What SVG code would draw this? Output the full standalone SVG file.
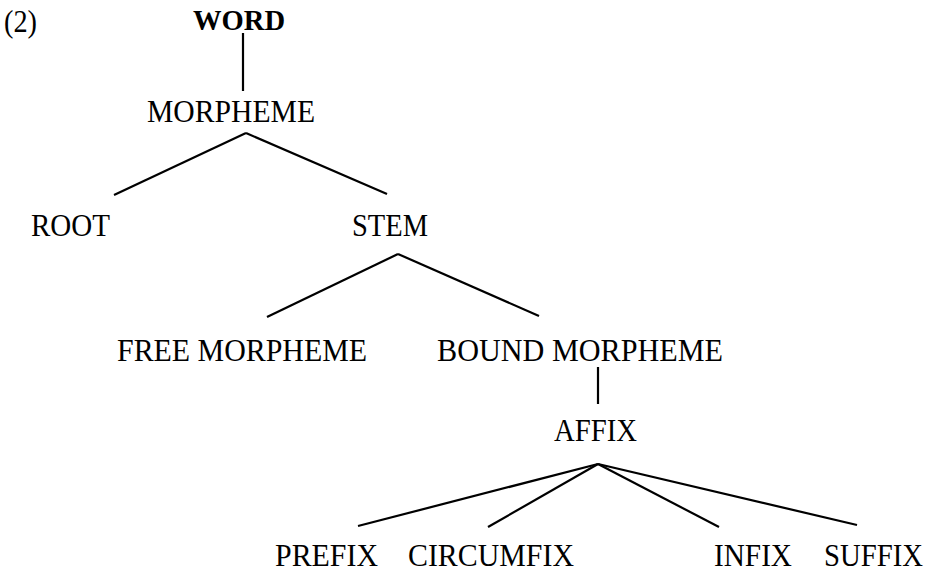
<svg xmlns="http://www.w3.org/2000/svg" width="931" height="570" viewBox="0 0 931 570">
<style>
text{font-family:"Liberation Serif","Times New Roman",serif;font-size:31px;fill:#000}
.b{font-weight:bold;font-size:30px}
#connectors line{stroke:#000;stroke-width:2.2;stroke-linecap:butt}
</style>
<rect width="931" height="570" fill="#fff"/>
<g id="label"><text x="4" y="32" textLength="33" lengthAdjust="spacingAndGlyphs">(2)</text></g>
<g id="connectors">
<line x1="243" y1="33" x2="243" y2="91"/>
<line x1="246" y1="133" x2="114" y2="195"/>
<line x1="246" y1="133" x2="387" y2="194"/>
<line x1="398" y1="254" x2="267" y2="317"/>
<line x1="398" y1="254" x2="539" y2="316"/>
<line x1="598" y1="367" x2="598" y2="404"/>
<line x1="598" y1="464" x2="358" y2="526"/>
<line x1="598" y1="464" x2="488" y2="527"/>
<line x1="598" y1="464" x2="719" y2="527"/>
<line x1="598" y1="464" x2="857" y2="525"/>
</g>
<g id="word"><text class="b" x="193" y="30" textLength="92" lengthAdjust="spacingAndGlyphs">WORD</text></g>
<g id="morpheme"><text x="147" y="122" textLength="168" lengthAdjust="spacingAndGlyphs">MORPHEME</text></g>
<g id="root"><text x="31" y="236" textLength="79" lengthAdjust="spacingAndGlyphs">ROOT</text></g>
<g id="stem"><text x="352" y="236" textLength="76" lengthAdjust="spacingAndGlyphs">STEM</text></g>
<g id="free-morpheme"><text x="117" y="361" textLength="250" lengthAdjust="spacingAndGlyphs">FREE MORPHEME</text></g>
<g id="bound-morpheme"><text x="437" y="361" textLength="286" lengthAdjust="spacingAndGlyphs">BOUND MORPHEME</text></g>
<g id="affix"><text x="554" y="441" textLength="83" lengthAdjust="spacingAndGlyphs">AFFIX</text></g>
<g id="prefix"><text x="275" y="566" textLength="103" lengthAdjust="spacingAndGlyphs">PREFIX</text></g>
<g id="circumfix"><text x="408" y="566" textLength="166" lengthAdjust="spacingAndGlyphs">CIRCUMFIX</text></g>
<g id="infix"><text x="714" y="566" textLength="78" lengthAdjust="spacingAndGlyphs">INFIX</text></g>
<g id="suffix"><text x="824" y="566" textLength="99" lengthAdjust="spacingAndGlyphs">SUFFIX</text></g>
</svg>
